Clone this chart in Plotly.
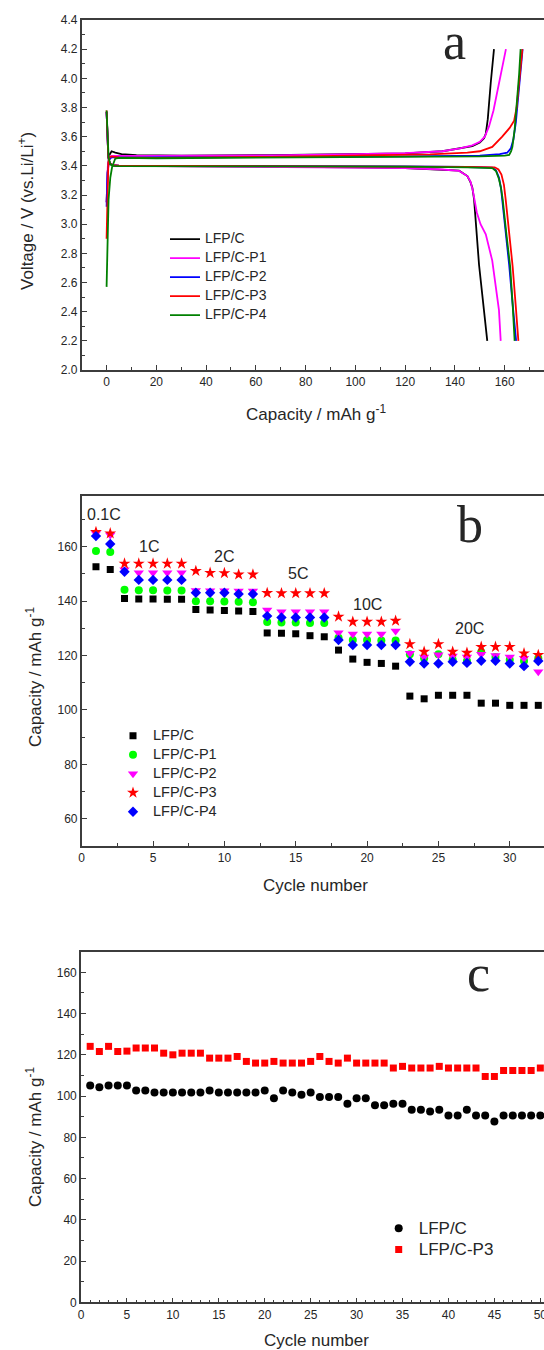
import plotly.graph_objects as go

W, H = 544, 1350

# ---------- (a) charge / discharge profiles: (capacity mAh/g, voltage V) ----------
lfp_c_charge = [(0, 3.15), (0.4, 3.35), (1.0, 3.47), (2.0, 3.50), (3.5, 3.49), (6, 3.48), (12, 3.473),
                (30, 3.47), (66, 3.474), (100, 3.48), (120, 3.486), (135, 3.50), (142, 3.52), (147, 3.535),
                (150, 3.56), (151.7, 3.59), (152.4, 3.62), (153.2, 3.72), (154.4, 3.97), (155.7, 4.20)]
lfp_c_discharge = [(0, 3.77), (0.3, 3.58), (0.7, 3.46), (1.3, 3.415), (2.5, 3.403), (5, 3.40), (30, 3.398),
                   (66, 3.395), (100, 3.39), (120, 3.385), (135, 3.376), (141.7, 3.367), (145, 3.33),
                   (146.2, 3.29), (147, 3.25), (147.7, 3.17), (149.7, 2.72), (151.4, 2.45), (153.0, 2.20)]

p1_charge = [(0, 3.15), (0.5, 3.40), (1.2, 3.465), (3, 3.468), (10, 3.468), (30, 3.468), (66, 3.472),
             (100, 3.48), (120, 3.487), (135, 3.50), (142, 3.52), (147, 3.54), (150, 3.565), (152, 3.60),
             (153.7, 3.67), (155.5, 3.78), (157.7, 3.97), (159.0, 4.08), (160.5, 4.20)]
p1_discharge = [(0, 3.77), (0.3, 3.58), (0.7, 3.46), (1.3, 3.415), (2.5, 3.403), (5, 3.40), (30, 3.397),
                (66, 3.394), (100, 3.389), (120, 3.384), (135, 3.375), (141.7, 3.365), (145, 3.33),
                (146.3, 3.29), (147.2, 3.23), (147.9, 3.16), (148.8, 3.08), (150.3, 3.00), (152.4, 2.93),
                (155.0, 2.75), (156.4, 2.59), (157.7, 2.41), (158.4, 2.20)]

p2_charge = [(0, 3.12), (0.4, 3.35), (1.0, 3.44), (2.0, 3.46), (5, 3.458), (30, 3.458), (66, 3.46),
             (120, 3.465), (150, 3.47), (158, 3.48), (161, 3.49), (162.5, 3.52), (163.5, 3.58),
             (164.5, 3.70), (165.5, 3.88), (166.5, 4.05), (167.2, 4.20)]
p2_discharge = [(0, 3.77), (0.3, 3.58), (0.7, 3.46), (1.3, 3.415), (2.5, 3.405), (5, 3.402), (66, 3.40),
                (120, 3.396), (145, 3.392), (155, 3.388), (156.5, 3.37), (157.7, 3.32), (158.5, 3.25),
                (159.0, 3.17), (160.4, 2.95), (161.8, 2.72), (163.2, 2.45), (164.6, 2.20)]

p3_charge = [(0, 2.90), (0.3, 3.20), (0.7, 3.42), (1.2, 3.46), (2, 3.465), (5, 3.458), (20, 3.455),
             (66, 3.462), (100, 3.468), (130, 3.478), (145, 3.49), (150, 3.50), (155, 3.53), (159, 3.60),
             (162, 3.66), (163.8, 3.71), (164.8, 3.80), (165.8, 3.97), (166.5, 4.10), (167.1, 4.20)]
p3_discharge = [(0, 3.78), (0.3, 3.59), (0.7, 3.46), (1.3, 3.415), (2.5, 3.405), (5, 3.402), (66, 3.40),
                (120, 3.396), (145, 3.393), (156, 3.39), (157.5, 3.375), (158.7, 3.34), (159.7, 3.27),
                (160.4, 3.17), (161.8, 2.93), (163.2, 2.71), (164.4, 2.45), (165.5, 2.20)]

p4_charge = [(0, 2.57), (0.4, 2.85), (0.8, 3.17), (1.5, 3.32), (2.2, 3.39), (3.5, 3.45), (5, 3.455),
             (20, 3.452), (66, 3.455), (120, 3.46), (150, 3.465), (160, 3.47), (161.8, 3.475),
             (162.6, 3.50), (163.1, 3.53), (164.0, 3.65), (165.1, 3.85), (165.8, 4.03), (166.4, 4.20)]
p4_discharge = [(0, 3.78), (0.3, 3.60), (0.8, 3.46), (1.5, 3.41), (2.5, 3.40), (5, 3.398), (66, 3.397),
                (120, 3.394), (145, 3.39), (155, 3.385), (156.5, 3.365), (157.7, 3.31), (158.6, 3.24),
                (159.2, 3.17), (160.7, 2.93), (162.2, 2.71), (163.2, 2.45), (164.0, 2.20)]

# ---------- (b) rate capability ----------
rate_cycles = list(range(1, 33))
rate_lfp_c = [152.6, 151.6, 141.0, 140.8, 140.8, 140.7, 140.7, 136.9, 136.7, 136.6, 136.4, 136.2,
              128.3, 128.2, 128.0, 127.3, 126.9, 122.0, 118.7, 117.5, 117.1, 116.1,
              105.1, 104.1, 105.4, 105.4, 105.4, 102.5, 102.5, 101.7, 101.7, 101.7]
rate_p1 = [158.4, 158.1, 144.2, 144.0, 144.0, 143.9, 143.9, 140.0, 140.0, 139.9, 139.8, 139.6,
           132.3, 132.1, 132.1, 132.0, 132.0, 126.5, 125.7, 125.7, 125.5, 125.5,
           120.5, 119.0, 120.5, 118.5, 118.0, 121.3, 119.5, 118.5, 118.0, 119.0]
rate_p2 = [164.9, 164.3, 151.5, 150.4, 150.4, 150.4, 150.4, 143.9, 143.8, 143.8, 143.7, 143.7,
           136.7, 136.1, 136.1, 136.1, 136.1, 128.4, 127.9, 127.9, 127.9, 129.0,
           120.8, 119.5, 120.3, 119.8, 119.5, 120.5, 120.0, 119.5, 119.0, 114.0]
rate_p3 = [165.4, 164.9, 153.8, 153.8, 153.8, 153.8, 153.8, 151.1, 150.4, 150.3, 149.8, 149.8,
           143.0, 142.9, 142.9, 142.9, 142.9, 134.3, 132.4, 132.4, 132.4, 132.8,
           124.2, 121.4, 124.2, 121.4, 121.0, 123.2, 123.2, 123.2, 120.8, 120.2]
rate_p4 = [163.9, 161.0, 150.8, 147.8, 147.8, 147.8, 147.8, 143.1, 143.1, 143.1, 142.6, 142.6,
           134.5, 134.0, 134.0, 134.0, 134.0, 125.7, 123.9, 123.9, 123.9, 123.9,
           117.7, 117.1, 117.1, 117.7, 117.3, 118.1, 118.1, 117.1, 116.1, 118.0]
rate_names = ["0.1C", "1C", "2C", "5C", "10C", "20C"]

# ---------- (c) cycling at high rate ----------
cyc_cycles = list(range(1, 51))
cyc_lfp_c = [105.1, 104.3, 105.1, 105.1, 105.1, 102.7, 102.7, 101.7, 101.7, 101.7,
             101.7, 101.7, 101.7, 102.7, 101.7, 101.7, 101.7, 101.7, 101.7, 102.7,
             99.0, 102.7, 101.7, 100.6, 101.7, 99.5, 99.5, 99.5, 96.3, 99.0,
             99.0, 95.5, 95.5, 96.3, 96.3, 93.4, 93.4, 92.5, 93.4, 90.6,
             90.6, 93.4, 90.6, 90.6, 87.7, 90.6, 90.6, 90.6, 90.6, 90.6]
cyc_p3 = [124.1, 121.6, 124.1, 121.6, 121.8, 123.3, 123.3, 123.3, 120.8, 120.0,
          120.8, 120.8, 120.8, 118.4, 118.4, 118.4, 119.2, 116.8, 116.0, 116.0,
          116.8, 116.0, 116.0, 116.0, 116.8, 119.2, 116.8, 116.0, 118.4, 116.0,
          116.0, 116.0, 116.0, 113.6, 114.4, 113.6, 113.6, 113.6, 114.4, 113.6,
          113.6, 113.6, 113.6, 109.5, 109.5, 112.4, 112.4, 112.4, 112.4, 113.6]

# ---------------------------------------------------------------------------
SANS = "Liberation Sans, Arial, sans-serif"
SERIF = "Liberation Serif, Times New Roman, serif"
AXIS_COL = "#3c3c3c"
TEXT_COL = "#262626"


def px(x):
    return x / W


def py(y):
    return 1 - y / H


def legend_name(text, size):
    return f'<span style="font-size:{size}px">{text}</span>'


def profile(charge, discharge):
    xs = [c for c, _ in charge] + [None] + [c for c, _ in discharge]
    ys = [v for _, v in charge] + [None] + [v for _, v in discharge]
    return xs, ys


fig = go.Figure()

# panel a
curves = [("LFP/C", lfp_c_charge, lfp_c_discharge, "#000000"),
          ("LFP/C-P1", p1_charge, p1_discharge, "#ff00ff"),
          ("LFP/C-P2", p2_charge, p2_discharge, "#0000ff"),
          ("LFP/C-P3", p3_charge, p3_discharge, "#ff0000"),
          ("LFP/C-P4", p4_charge, p4_discharge, "#008000")]
for name, ch, dis, col in curves:
    xs, ys = profile(ch, dis)
    fig.add_trace(go.Scatter(x=xs, y=ys, mode="lines", name=legend_name(name, 14),
                             line=dict(color=col, width=1.8), connectgaps=False,
                             xaxis="x", yaxis="y", legend="legend"))

# panel b
rate_series = [("LFP/C", rate_lfp_c, "#000000", "square", 7),
               ("LFP/C-P1", rate_p1, "#00ff00", "circle", 8),
               ("LFP/C-P2", rate_p2, "#ff00ff", "triangle-down", 9),
               ("LFP/C-P3", rate_p3, "#ff0000", "star", 9),
               ("LFP/C-P4", rate_p4, "#0000ff", "diamond", 8)]
for name, vals, col, sym, size in rate_series:
    fig.add_trace(go.Scatter(x=rate_cycles, y=vals, mode="markers", name=legend_name(name, 14.5),
                             marker=dict(color=col, symbol=sym, size=size, line=dict(width=0)),
                             xaxis="x2", yaxis="y2", legend="legend2"))

# panel c
cyc_series = [("LFP/C", cyc_lfp_c, "#000000", "circle", 8),
              ("LFP/C-P3", cyc_p3, "#ff0000", "square", 7)]
for name, vals, col, sym, size in cyc_series:
    fig.add_trace(go.Scatter(x=cyc_cycles, y=vals, mode="markers", name=legend_name(name, 17),
                             marker=dict(color=col, symbol=sym, size=size, line=dict(width=0)),
                             xaxis="x3", yaxis="y3", legend="legend3"))


def axis_style(**kw):
    base = dict(showline=True, linecolor=AXIS_COL, linewidth=1.6, ticks="inside", ticklen=5,
                tickwidth=1.4, tickcolor=AXIS_COL, showgrid=False, zeroline=False,
                tickfont=dict(family=SANS, size=12, color=TEXT_COL), automargin=False,
                fixedrange=True, ticklabeloverflow="allow")
    base.update(kw)
    return base


def minor(d):
    return dict(ticks="inside", ticklen=3, tickwidth=1.2, tickcolor=AXIS_COL, dtick=d, showgrid=False)


# panel geometry (pixels)
A_TOP, A_BOT, A_LEFT = 20, 370, 81.7
B_TOP, B_BOT, B_LEFT = 495.7, 846, 81.7
C_TOP, C_BOT, C_LEFT = 951.7, 1302.3, 81.0

fig.update_layout(
    width=W, height=H, margin=dict(l=0, r=0, t=0, b=0),
    paper_bgcolor="white", plot_bgcolor="white",
    font=dict(family=SANS, color=TEXT_COL),
    xaxis=axis_style(domain=[px(A_LEFT), 1], anchor="y", range=[-10, 175.8], tick0=0, dtick=20,
                     minor=minor(10), mirror=True),
    yaxis=axis_style(domain=[py(A_BOT), py(A_TOP)], anchor="x", range=[2.0, 4.4], tick0=2.0,
                     dtick=0.2, tickformat=".1f", minor=minor(0.1)),
    xaxis2=axis_style(domain=[px(B_LEFT), 1], anchor="y2", range=[0, 32.4], tick0=0, dtick=5,
                      minor=minor(2.5), mirror=True),
    yaxis2=axis_style(domain=[py(B_BOT), py(B_TOP)], anchor="x2", range=[50, 178.75], tick0=0,
                      dtick=20, minor=minor(10)),
    xaxis3=axis_style(domain=[px(C_LEFT), 1], anchor="y3", range=[0, 50.4], tick0=0, dtick=5,
                      minor=minor(1), mirror=True),
    yaxis3=axis_style(domain=[py(C_BOT), py(C_TOP)], anchor="x3", range=[0, 170], tick0=0,
                      dtick=20, minor=minor(10)),
    legend=dict(x=px(165), y=py(224.7), xanchor="left", yanchor="top", bgcolor="rgba(0,0,0,0)",
                borderwidth=0, font=dict(family=SANS, size=11, color=TEXT_COL), tracegroupgap=0),
    legend2=dict(x=px(113), y=py(721.2), xanchor="left", yanchor="top", bgcolor="rgba(0,0,0,0)",
                 borderwidth=0, font=dict(family=SANS, size=11, color=TEXT_COL), tracegroupgap=0),
    legend3=dict(x=px(378.7), y=py(1212.6), xanchor="left", yanchor="top", bgcolor="rgba(0,0,0,0)",
                 borderwidth=0, font=dict(family=SANS, size=14, color=TEXT_COL), tracegroupgap=0),
    showlegend=True,
)

ann = []


def text_at(x, y, text, size, family=SANS, angle=0):
    ann.append(dict(xref="paper", yref="paper", x=px(x), y=py(y), text=text, showarrow=False,
                    xanchor="center", yanchor="middle", textangle=angle,
                    font=dict(family=family, size=size, color=TEXT_COL)))


# axis titles
text_at(316, 413, "Capacity / mAh g<sup>-1</sup>", 17)
text_at(26, 211, "Voltage / V (vs.Li/Li<sup>+</sup>)", 17, angle=-90)
text_at(315, 885, "Cycle number", 17)
text_at(34, 677, "Capacity / mAh g<sup>-1</sup>", 17, angle=-90)
text_at(316, 1340.5, "Cycle number", 17)
text_at(34, 1137, "Capacity / mAh g<sup>-1</sup>", 17, angle=-90)

# panel letters
text_at(454.5, 42, "a", 52, family=SERIF)
text_at(470.3, 524, "b", 52, family=SERIF)
text_at(478.7, 973, "c", 52, family=SERIF)

# C-rate labels placed on the rate-capability axes
rate_label_pos = [(1.56, 171.9), (4.72, 160.0), (9.97, 156.3), (15.14, 150.2), (20.05, 138.6), (27.18, 130.0)]
for name, (cx, cy) in zip(rate_names, rate_label_pos):
    ann.append(dict(xref="x2", yref="y2", x=cx, y=cy, text=name, showarrow=False,
                    xanchor="center", yanchor="middle",
                    font=dict(family=SANS, size=16, color=TEXT_COL)))

fig.update_layout(annotations=ann)

fig.write_html("out.html")
